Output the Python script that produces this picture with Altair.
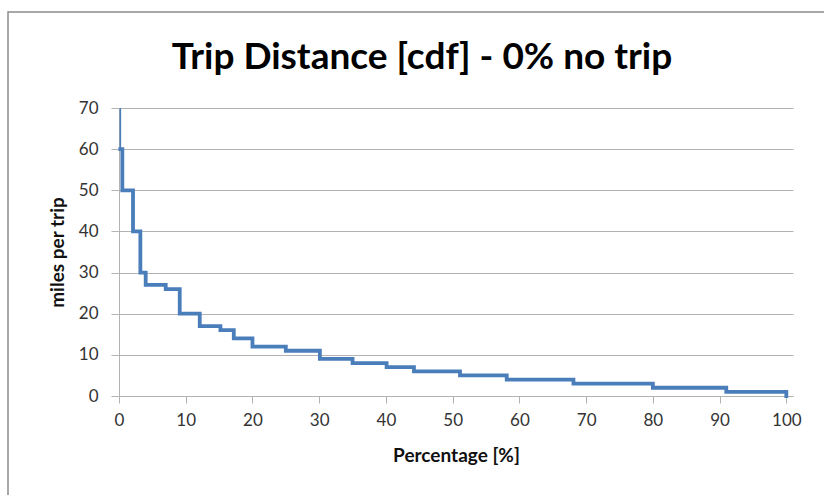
import altair as alt
import pandas as pd

# Step positions (percentage where the value drops) and the miles values
pct = [0.2, 0.2, 0.5, 2.1, 3.2, 4.0, 7.0, 9.1, 12.1, 15.2, 17.2, 20.0, 25.0,
       30.1, 35.0, 40.1, 44.2, 51.1, 58.1, 68.1, 80.0, 91.0, 100.0]
miles = [70, 60, 50, 40, 30, 27, 26, 20, 17, 16, 14, 12, 11,
         9, 8, 7, 6, 5, 4, 3, 2, 1, 0]

x_ticks = list(range(0, 101, 10))
y_ticks = list(range(0, 71, 10))

title_text = "Trip Distance [cdf] - 0% no trip"
x_title = "Percentage [%]"
y_title = "miles per trip"

df = pd.DataFrame({"pct": pct, "miles": miles})
df_top = df.iloc[:2]
df_main = df.iloc[1:]

FONT = "Lato"
GRID = "#b3b3b3"
BLUE = "#4a7ebb"

x_enc = alt.X(
    "pct:Q",
    scale=alt.Scale(domain=[0, 101], nice=False, zero=False),
    axis=alt.Axis(
        values=x_ticks, grid=False, title=x_title,
        tickSize=7, tickColor=GRID, domainColor=GRID,
        labelFont=FONT, labelFontSize=17, labelColor="#333333", labelPadding=9,
        labelFlush=False,
        titleFont=FONT, titleFontSize=19, titleFontWeight="bold", titleColor="#111111",
        titlePadding=18,
    ),
)
y_enc = alt.Y(
    "miles:Q",
    scale=alt.Scale(domain=[0, 70], nice=False),
    axis=alt.Axis(
        values=y_ticks, grid=True, gridColor=GRID, title=y_title,
        tickSize=8, tickColor=GRID, domainColor=GRID,
        labelFont=FONT, labelFontSize=17, labelColor="#333333", labelPadding=13,
        labelFlush=False,
        titleFont=FONT, titleFontSize=19, titleFontWeight="bold", titleColor="#111111",
        titleAngle=270, titleX=-62, titleY=144, titleAlign="center", titleBaseline="middle",
    ),
)

main = alt.Chart(df_main).mark_line(
    interpolate="step-after", color=BLUE, strokeWidth=3.8, strokeJoin="miter", strokeCap="square"
).encode(x=x_enc, y=y_enc)

top = alt.Chart(df_top).mark_line(color=BLUE, strokeWidth=1.6).encode(
    x="pct:Q", y="miles:Q"
)

frame = alt.Chart(pd.DataFrame({"a": [0]})).mark_rect(
    fill=None, stroke="#8c8c8c", strokeWidth=1.5
).encode(
    x=alt.value(-111), x2=alt.value(740), y=alt.value(-96), y2=alt.value(420)
)

title = alt.Chart(pd.DataFrame({"t": [title_text]})).mark_text(
    font=FONT, fontSize=37, fontWeight="bold", color="#000000",
    align="center", baseline="alphabetic"
).encode(
    text="t:N", x=alt.value(303), y=alt.value(-39)
)

chart = alt.layer(frame, main, top, title).properties(
    width=674, height=288,
    padding={"left": 119, "top": 108, "right": 31, "bottom": 99},
    autosize=alt.AutoSizeParams(type="none"),
    background="white",
).configure_view(stroke=None)

chart.save("out.html", embed_options={"renderer": "svg", "actions": False})
